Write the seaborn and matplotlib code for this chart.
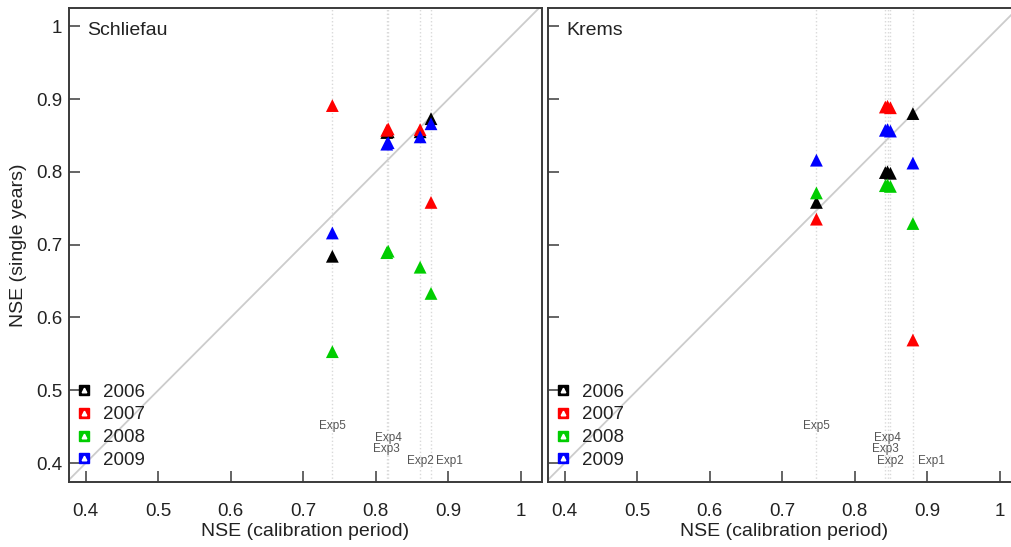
import numpy as np
import pandas as pd
import seaborn as sns
import matplotlib.pyplot as plt
from matplotlib.lines import Line2D
from matplotlib.legend_handler import HandlerTuple

# calibration NSE of the five experiments (Exp1..Exp5)
exps = ['Exp1', 'Exp2', 'Exp3', 'Exp4', 'Exp5']
years = ['2006', '2007', '2008', '2009']

schliefau_calib = [0.876, 0.861, 0.815, 0.817, 0.740]
schliefau_2006 = [0.873, 0.855, 0.854, 0.855, 0.684]
schliefau_2007 = [0.758, 0.858, 0.857, 0.859, 0.891]
schliefau_2008 = [0.633, 0.669, 0.689, 0.691, 0.553]
schliefau_2009 = [0.866, 0.848, 0.838, 0.840, 0.716]

krems_calib = [0.880, 0.849, 0.842, 0.845, 0.747]
krems_2006 = [0.880, 0.798, 0.799, 0.800, 0.758]
krems_2007 = [0.569, 0.888, 0.889, 0.890, 0.735]
krems_2008 = [0.729, 0.780, 0.781, 0.782, 0.771]
krems_2009 = [0.812, 0.856, 0.857, 0.858, 0.816]

sites = {
    'Schliefau': (schliefau_calib, [schliefau_2006, schliefau_2007, schliefau_2008, schliefau_2009]),
    'Krems': (krems_calib, [krems_2006, krems_2007, krems_2008, krems_2009]),
}

ticks = [0.4, 0.5, 0.6, 0.7, 0.8, 0.9, 1.0]
tick_labels = ['0.4', '0.5', '0.6', '0.7', '0.8', '0.9', '1']

colors = {'2006': '#000000', '2007': '#ff0000', '2008': '#00cd00', '2009': '#0000ff'}

# vertical position of the experiment labels
label_y = {'Exp1': 0.403, 'Exp2': 0.403, 'Exp3': 0.419, 'Exp4': 0.435, 'Exp5': 0.451}

sns.set_style('white')
plt.rcParams['font.family'] = ['Liberation Sans', 'DejaVu Sans']

fig = plt.figure(figsize=(10.12, 5.47), dpi=100)
W, H = 1012, 547
ax_l = fig.add_axes([69 / W, 1 - 482 / H, 473 / W, 474 / H])
ax_r = fig.add_axes([548 / W, 1 - 482 / H, 473 / W, 474 / H])

spine_col = '#3a3a3a'
text_col = '#222222'

for ax, (site, (calib, vals)) in zip([ax_l, ax_r], sites.items()):
    rows = []
    for yr, v in zip(years, vals):
        for e, c, n in zip(exps, calib, v):
            rows.append({'exp': e, 'calib': c, 'nse': n, 'year': yr})
    df = pd.DataFrame(rows)

    # 1:1 line and experiment guide lines
    ax.plot([0, 1.1], [0, 1.1], color='#cccccc', linewidth=1.3, zorder=1)
    for e, c in zip(exps, calib):
        ax.axvline(c, color='#d9d9d9', linestyle=':', linewidth=1.0, zorder=1)
        dx = 13 if e == 'Exp1' else 0
        ax.annotate(e, xy=(c, label_y[e]), xytext=(dx, 0), textcoords='offset points',
                    ha='center', va='center', fontsize=8.5, color='#555555')

    sns.scatterplot(data=df, x='calib', y='nse', hue='year', palette=colors, marker='^',
                    s=85, edgecolor='none', linewidth=0, legend=False, ax=ax, zorder=3)

    ax.set_xlim(0.377, 1.029)
    ax.set_ylim(0.374, 1.025)
    ax.set_xticks(ticks)
    ax.set_xticklabels(tick_labels)
    ax.set_yticks(ticks)
    ax.set_yticklabels(tick_labels)
    ax.tick_params(axis='x', bottom=True, direction='in', length=8, width=1.1, color=spine_col,
                   pad=15, labelsize=13.5, labelcolor=text_col)
    ax.tick_params(axis='y', left=True, direction='in', length=8, width=1.1, color=spine_col,
                   pad=5, labelsize=13.5, labelcolor=text_col)
    for sp in ax.spines.values():
        sp.set_color(spine_col)
        sp.set_linewidth(1.4)
    ax.set_xlabel('NSE (calibration period)', fontsize=14, color=text_col, labelpad=2)
    ax.set_ylabel('')
    ax.text(0.038, 0.97, site, transform=ax.transAxes, ha='left', va='top',
            fontsize=14, color=text_col)

    # legend: coloured square with a small white triangle
    handles = []
    for yr in years:
        sq = Line2D([], [], marker='s', linestyle='none', markersize=6.5,
                    markerfacecolor=colors[yr], markeredgecolor=colors[yr])
        tri = Line2D([], [], marker='^', linestyle='none', markersize=3.3,
                     markerfacecolor='white', markeredgecolor='white')
        handles.append((sq, tri))
    ax.legend(handles, years, handler_map={tuple: HandlerTuple(ndivide=1, pad=0)},
              loc='lower left', bbox_to_anchor=(-0.02, -0.008), frameon=False,
              fontsize=13.5, handlelength=0.8, handletextpad=0.6, labelspacing=0.3,
              labelcolor=text_col)

ax_l.set_ylabel('NSE (single years)', fontsize=14, color=text_col, labelpad=6)
ax_r.set_yticklabels([])

fig.savefig('out.png', dpi=100)
